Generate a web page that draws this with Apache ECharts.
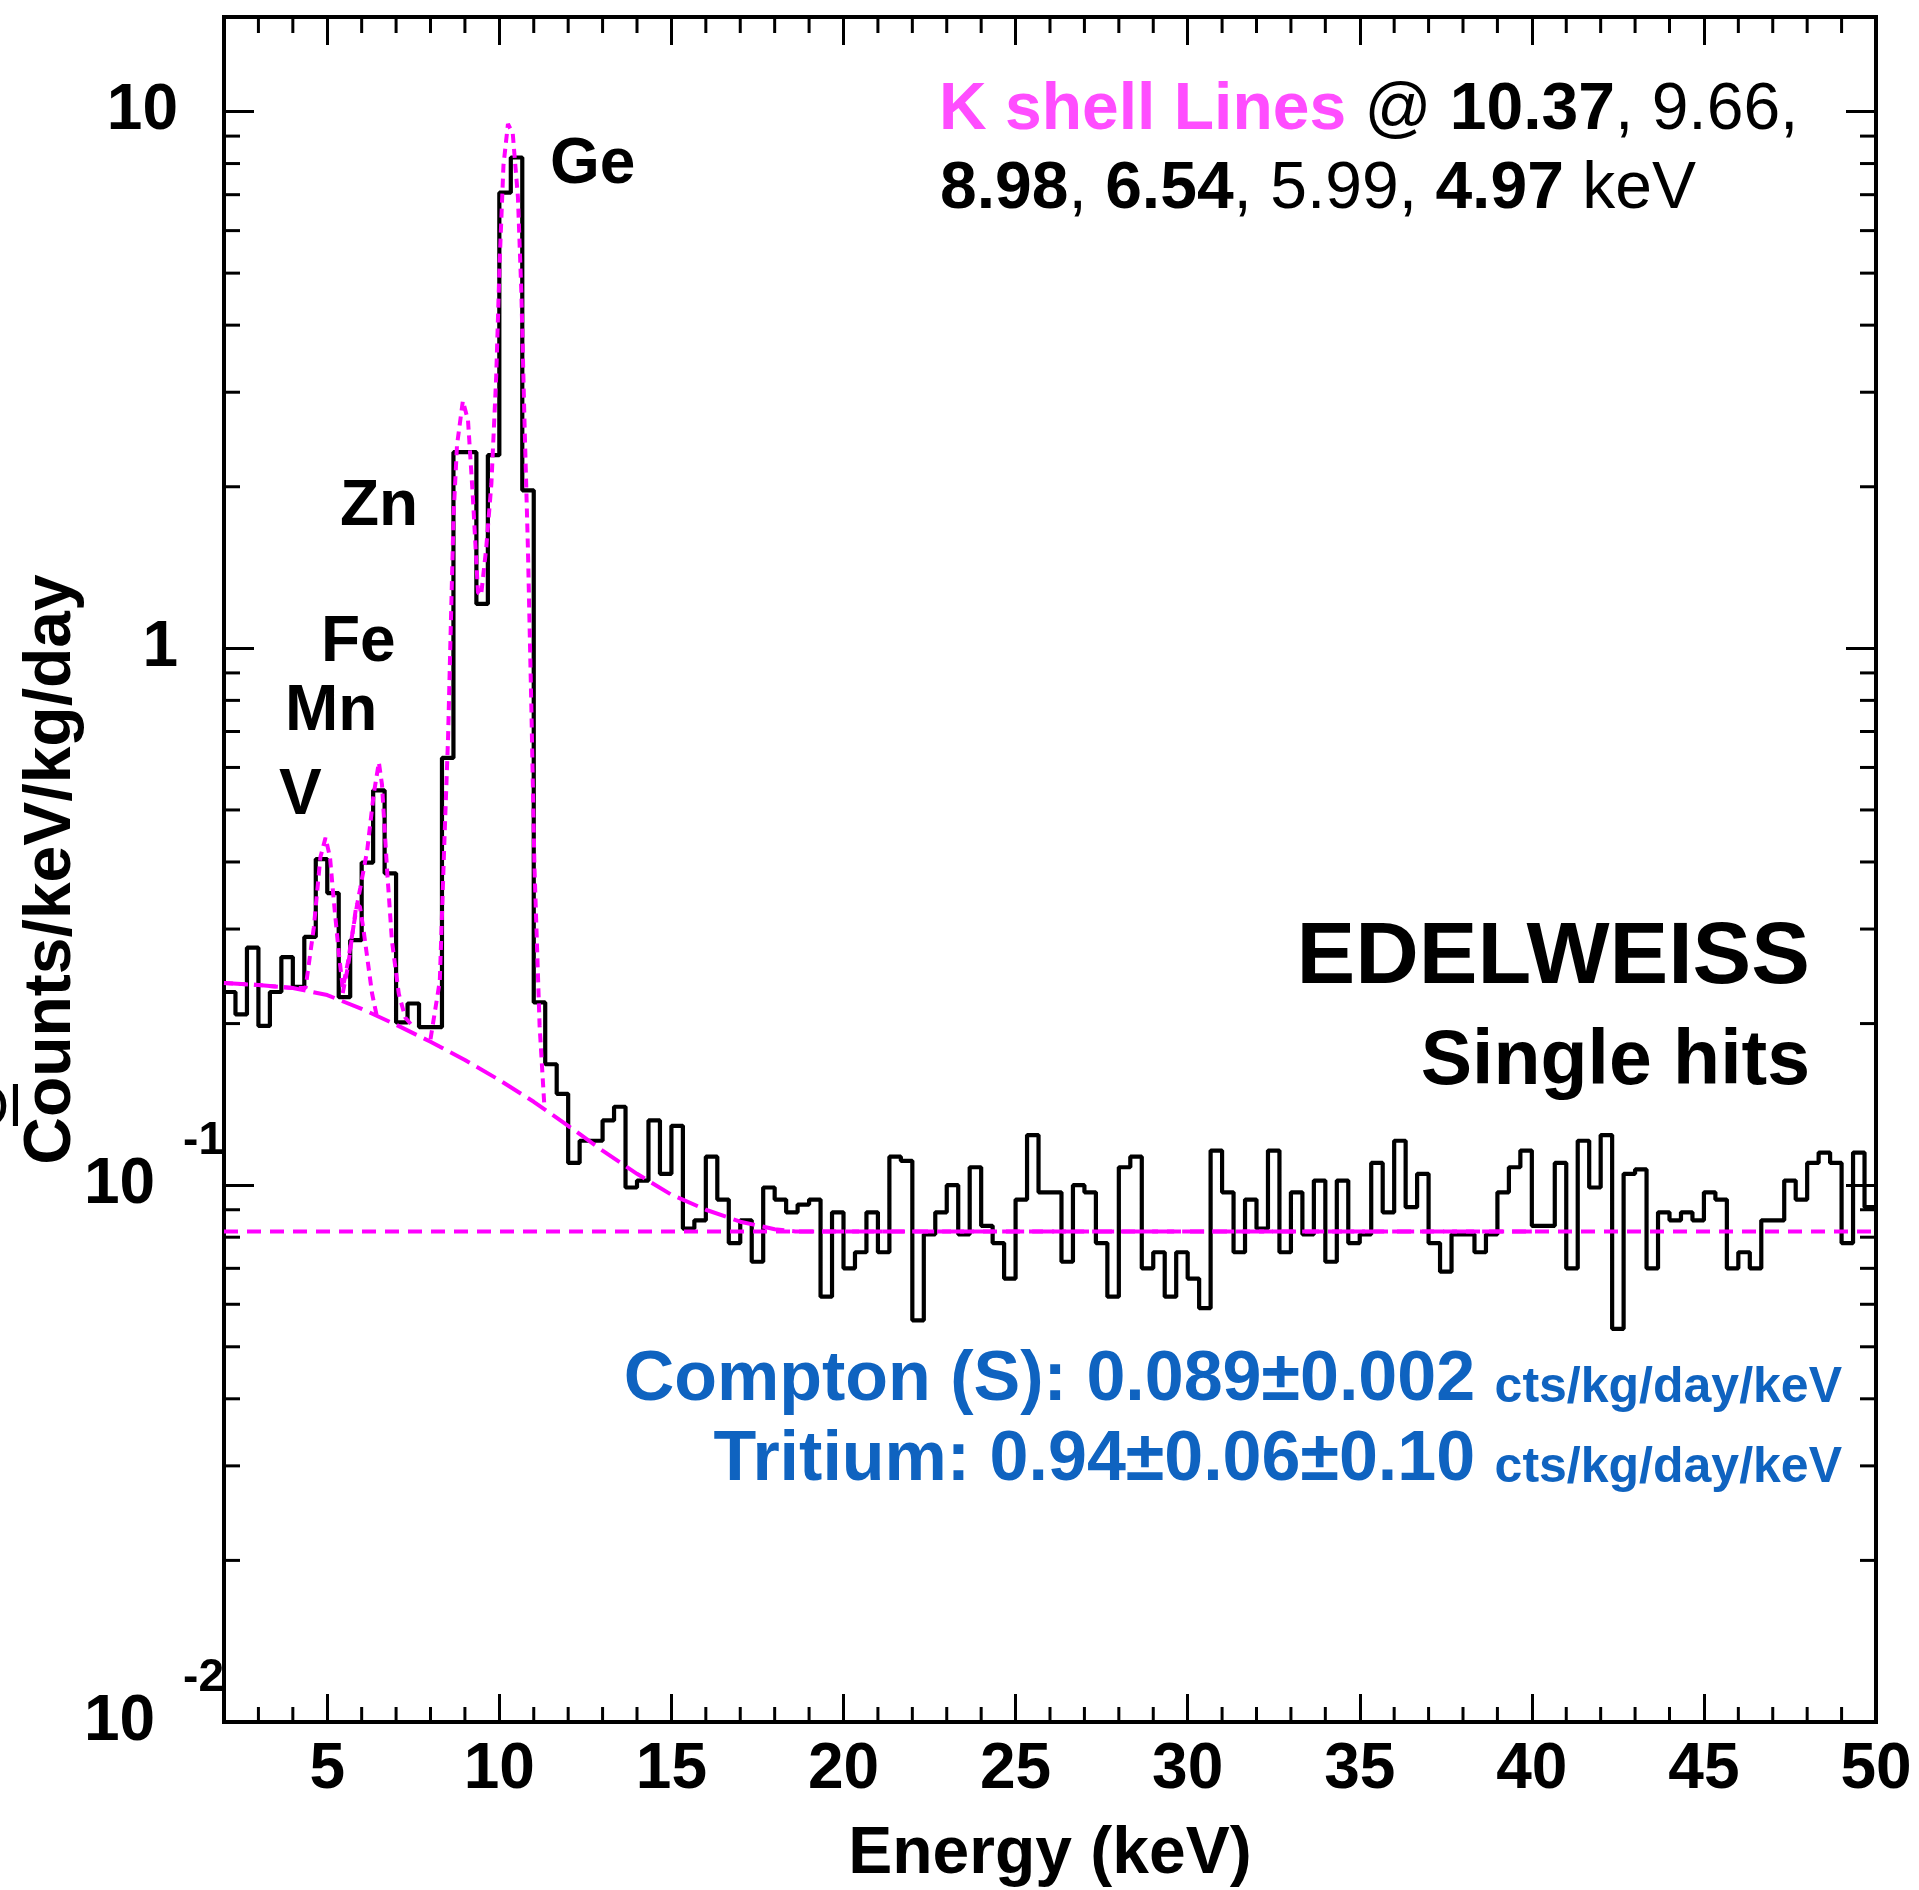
<!DOCTYPE html>
<html><head><meta charset="utf-8">
<script src="https://cdn.jsdelivr.net/npm/echarts@6/dist/echarts.min.js"></script>
<style>html,body{margin:0;padding:0;background:#fff}#c{width:1919px;height:1890px}</style>
</head><body><div id="c"></div>
<script>
// ---------------- data ----------------
const binStart = 2;        // keV, first bin edge
const binWidth = 1 / 3;    // keV
const counts = [
  0.229, 0.208, 0.277, 0.198, 0.229, 0.266, 0.234, 0.290, 0.405, 0.350,
  0.224, 0.286, 0.399, 0.544, 0.381, 0.201, 0.218, 0.197, 0.197, 0.625,
  2.32, 2.32, 1.21, 2.29, 7.06, 8.21, 1.97, 0.219, 0.168, 0.148,
  0.110, 0.121, 0.121, 0.132, 0.140, 0.099, 0.102, 0.132, 0.105, 0.129,
  0.083, 0.086, 0.113, 0.094, 0.078, 0.086, 0.072, 0.099, 0.094, 0.089,
  0.092, 0.094, 0.062, 0.089, 0.070, 0.075, 0.089, 0.075, 0.113, 0.111,
  0.056, 0.081, 0.089, 0.100, 0.081, 0.108, 0.084, 0.078, 0.067, 0.094,
  0.124, 0.097, 0.097, 0.072, 0.100, 0.097, 0.078, 0.062, 0.108, 0.113,
  0.070, 0.075, 0.062, 0.075, 0.067, 0.059, 0.116, 0.097, 0.075, 0.094,
  0.083, 0.116, 0.075, 0.097, 0.081, 0.102, 0.072, 0.102, 0.078, 0.081,
  0.110, 0.089, 0.121, 0.091, 0.105, 0.078, 0.069, 0.081, 0.081, 0.075,
  0.081, 0.097, 0.108, 0.116, 0.084, 0.084, 0.110, 0.070, 0.121, 0.099,
  0.124, 0.054, 0.105, 0.107, 0.070, 0.089, 0.086, 0.089, 0.086, 0.097,
  0.094, 0.070, 0.075, 0.070, 0.086, 0.086, 0.102, 0.094, 0.110, 0.115,
  0.110, 0.078, 0.115, 0.091
];

// Compton flat level (dashed)
const comptonEnergy = [2, 50];
const comptonValue  = [0.082, 0.082];

// Tritium + Compton background (long dashes)
const bgEnergy = [2, 3, 4, 5, 6, 7, 8, 9, 10, 11, 12, 13, 14, 15, 16, 17, 18, 18.6, 40];
const bgValue  = [0.238, 0.236, 0.233, 0.226, 0.213, 0.199, 0.185, 0.171, 0.157, 0.143,
                  0.129, 0.116, 0.105, 0.096, 0.090, 0.0855, 0.0828, 0.082, 0.082];

// Total fit (dotted), low-energy part: V, Mn, Fe lines
const fitLowEnergy = [2, 3, 4, 4.37, 4.61, 4.8, 4.95, 5.08, 5.19, 5.34, 5.45, 5.6, 5.75, 5.87,
                      5.96, 6.16, 6.35, 6.5, 6.59, 6.74, 6.88, 7.08, 7.27, 7.5];
const fitLowValue  = [0.238, 0.236, 0.233, 0.233, 0.302, 0.408, 0.444, 0.408, 0.339, 0.269,
                      0.233, 0.26, 0.30, 0.334, 0.358, 0.42, 0.535, 0.613, 0.558, 0.385,
                      0.285, 0.227, 0.205, 0.197];
// Total fit (dotted), Zn / Ge region
const fitHighEnergy = [8.0, 8.27, 8.41, 8.51, 8.6, 8.67, 8.77, 8.94, 9.09, 9.23, 9.38, 9.47,
                       9.62, 9.77, 9.91, 10.01, 10.12, 10.25, 10.39, 10.54, 10.64, 10.73,
                       10.83, 10.93, 11.02, 11.17, 11.31];
const fitHighValue  = [0.187, 0.24, 0.45, 0.68, 1.17, 1.77, 2.39, 2.89, 2.66, 1.92, 1.27, 1.255,
                       1.54, 2.03, 3.22, 5.27, 7.94, 9.48, 9.10, 6.93, 4.60, 2.66,
                       1.54, 0.778, 0.393, 0.198, 0.14];
// Mn line component alone (dotted)
const mnEnergy = [5.45, 5.6, 5.72, 5.85, 5.95, 6.05, 6.16, 6.3, 6.45];
const mnValue  = [0.228, 0.255, 0.29, 0.334, 0.33, 0.30, 0.266, 0.228, 0.205];

// axes
const xMin = 2, xMax = 50;
const yMin = 0.01, yMax = 15;
const xTickValues = [5, 10, 15, 20, 25, 30, 35, 40, 45, 50];
const yTickValues = [0.01, 0.1, 1, 10];
const yTickBase = ['10', '10', '1', '10'];
const yTickExp  = ['-2', '-1', '', ''];
const yMinorMantissa = [2, 3, 4, 5, 6, 7, 8, 9];
const yDecades = [0.01, 0.1, 1];

// texts
const xTitle = 'Energy (keV)';
const yTitle = 'Counts/keV/kg/day';
const peakNames = ['Ge', 'Zn', 'Fe', 'Mn', 'V'];

// ---------------- build ----------------
const FONT = '"Liberation Sans", Arial, Helvetica, sans-serif';
const MAG = '#ff00ff';
const histData = counts.map((v, i) => [binStart + i * binWidth, v]);
histData.push([binStart + counts.length * binWidth, counts[counts.length - 1]]);
const zip = (a, b) => a.map((x, i) => [x, b[i]]);

const xMinor = [];
for (let k = Math.ceil(xMin); k < xMax; k++) if (k % 5 !== 0 && k > xMin) xMinor.push(k);
const yMinor = [];
yDecades.forEach(d => yMinorMantissa.forEach(m => yMinor.push(+(m * d).toPrecision(3))));

function yLabel(v) {
  for (let i = 0; i < yTickValues.length; i++) {
    if (Math.abs(Math.log10(v) - Math.log10(yTickValues[i])) < 1e-6) {
      return yTickExp[i] ? '{b|' + yTickBase[i] + '}{s|' + yTickExp[i] + '}' : '{bp|' + yTickBase[i] + '}';
    }
  }
  return '';
}

const tickStyle = { stroke: '#000', lineWidth: 3 };
const chart = echarts.init(document.getElementById('c'), null, { renderer: 'canvas' });
const labelBold = { fontFamily: FONT, fontWeight: 'bold', color: '#000' };
const peakText = (i, x, y) => ({ type: 'text', x: x, y: y,
  style: { text: peakNames[i], font: 'bold 64px ' + FONT, fill: '#000', align: 'left', verticalAlign: 'middle' } });

chart.setOption({
  backgroundColor: '#fff',
  animation: false,
  grid: { left: 224, right: 43, top: 17, bottom: 168, show: true, borderColor: '#000', borderWidth: 4,
          backgroundColor: 'transparent', containLabel: false, outerBoundsMode: 'none' },
  xAxis: [
    { type: 'value', min: xMin, max: xMax, position: 'bottom',
      axisLine: { show: false, onZero: false }, splitLine: { show: false },
      axisTick: { show: true, inside: true, length: 28, customValues: xTickValues, lineStyle: { color: '#000', width: 3 } },
      axisLabel: { customValues: xTickValues, margin: 16, fontSize: 64, ...labelBold },
      name: xTitle, nameLocation: 'middle', nameGap: 100, nameMoveOverlap: false,
      nameTextStyle: { fontSize: 66, ...labelBold } },
    { type: 'value', min: xMin, max: xMax, position: 'top',
      axisLine: { show: false, onZero: false }, splitLine: { show: false },
      axisTick: { show: true, inside: true, length: 28, customValues: xTickValues, lineStyle: { color: '#000', width: 3 } },
      axisLabel: { show: false } }
  ],
  yAxis: [
    { type: 'log', logBase: 10, min: yMin, max: yMax, position: 'left',
      axisLine: { show: false, onZero: false }, splitLine: { show: false }, minorTick: { show: false },
      axisTick: { show: true, inside: true, length: 30, lineStyle: { color: '#000', width: 3 } },
      axisLabel: { margin: 0, showMinLabel: true, showMaxLabel: true, formatter: yLabel,
        rich: {
          bp: { fontSize: 64, lineHeight: 64, fontWeight: 'bold', fontFamily: FONT, color: '#000', padding: [0, 46, 0, 0] },
          b:  { fontSize: 64, lineHeight: 64, fontWeight: 'bold', fontFamily: FONT, color: '#000' },
          s:  { fontSize: 46, lineHeight: 46, fontWeight: 'bold', fontFamily: FONT, color: '#000', padding: [0, 0, 88, 28] }
        } },
      name: yTitle, nameLocation: 'middle', nameGap: 139, nameMoveOverlap: false,
      nameTextStyle: { fontSize: 66, ...labelBold } },
    { type: 'log', logBase: 10, min: yMin, max: yMax, position: 'right',
      axisLine: { show: false, onZero: false }, splitLine: { show: false }, minorTick: { show: false },
      axisTick: { show: true, inside: true, length: 30, lineStyle: { color: '#000', width: 3 } },
      axisLabel: { show: false } }
  ],
  series: [
    { name: 'data', type: 'line', step: 'end', data: histData, symbol: 'none', z: 2,
      lineStyle: { color: '#000', width: 4.2 }, silent: true },
    { name: 'compton', type: 'line', data: zip(comptonEnergy, comptonValue), symbol: 'none', z: 3,
      lineStyle: { color: MAG, width: 4, type: [14, 9] }, silent: true },
    { name: 'background', type: 'line', data: zip(bgEnergy, bgValue), symbol: 'none', z: 4,
      lineStyle: { color: MAG, width: 4, type: [22, 8] }, silent: true },
    { name: 'fitLow', type: 'line', data: zip(fitLowEnergy, fitLowValue), symbol: 'none', z: 5,
      lineStyle: { color: MAG, width: 4, type: [9, 6] }, silent: true },
    { name: 'fitHigh', type: 'line', data: zip(fitHighEnergy, fitHighValue), symbol: 'none', z: 5,
      lineStyle: { color: MAG, width: 4, type: [9, 6] }, silent: true },
    { name: 'Mn', type: 'line', data: zip(mnEnergy, mnValue), symbol: 'none', z: 5,
      lineStyle: { color: MAG, width: 4, type: [9, 6] }, silent: true },
    { name: 'xMinorTicks', type: 'custom', coordinateSystem: 'cartesian2d', silent: true, clip: false, z: 20,
      data: xMinor.map(v => [v, yMin]),
      renderItem: (params, api) => {
        const b = api.coord([api.value(0), yMin]);
        const t = api.coord([api.value(0), yMax]);
        return { type: 'group', children: [
          { type: 'line', shape: { x1: b[0], y1: b[1], x2: b[0], y2: b[1] - 15 }, style: tickStyle },
          { type: 'line', shape: { x1: t[0], y1: t[1], x2: t[0], y2: t[1] + 16 }, style: tickStyle } ] };
      } },
    { name: 'yMinorTicks', type: 'custom', coordinateSystem: 'cartesian2d', silent: true, clip: false, z: 20,
      data: yMinor.map(v => [xMin, v]),
      renderItem: (params, api) => {
        const l = api.coord([xMin, api.value(1)]);
        const r = api.coord([xMax, api.value(1)]);
        return { type: 'group', children: [
          { type: 'line', shape: { x1: l[0], y1: l[1], x2: l[0] + 16, y2: l[1] }, style: tickStyle },
          { type: 'line', shape: { x1: r[0], y1: r[1], x2: r[0] - 16, y2: r[1] }, style: tickStyle } ] };
      } }
  ],
  graphic: [
    // peak labels
    peakText(0, 550, 165),
    peakText(1, 340, 507),
    peakText(2, 321, 643),
    peakText(3, 285, 712),
    peakText(4, 279, 796),
    // stray thin glyphs at the far left of the original figure
    { type: 'text', x: 22, y: 1110, style: { text: 'Ol', font: '58px ' + FONT, fill: '#000', align: 'right', verticalAlign: 'middle' } },
    // K shell lines
    { type: 'text', x: 939, y: 111, style: {
        text: '{m|K shell Lines}{n| @ }{b|10.37}{n|, 9.66,}', align: 'left', verticalAlign: 'middle',
        rich: {
          m: { font: 'bold 66px ' + FONT, fill: '#ff4dff', lineHeight: 66 },
          n: { font: '66px ' + FONT, fill: '#000', lineHeight: 66 },
          b: { font: 'bold 66px ' + FONT, fill: '#000', lineHeight: 66 } } } },
    { type: 'text', x: 940, y: 190, style: {
        text: '{b|8.98}{n|, }{b|6.54}{n|, 5.99, }{b|4.97}{n| keV}', align: 'left', verticalAlign: 'middle',
        rich: {
          n: { font: '66px ' + FONT, fill: '#000', lineHeight: 66 },
          b: { font: 'bold 66px ' + FONT, fill: '#000', lineHeight: 66 } } } },
    // EDELWEISS
    { type: 'text', x: 1810, y: 959, style: { text: 'EDELWEISS', font: 'bold 88px ' + FONT, fill: '#000', align: 'right', verticalAlign: 'middle' } },
    { type: 'text', x: 1810, y: 1063, style: { text: 'Single hits', font: 'bold 77px ' + FONT, fill: '#000', align: 'right', verticalAlign: 'middle' } },
    // fit results
    { type: 'text', x: 1842, y: 1381, style: {
        text: '{a|Compton (S): 0.089±0.002 }{c|cts/kg/day/keV}', align: 'right', verticalAlign: 'middle',
        rich: {
          a: { font: 'bold 70px ' + FONT, fill: '#0f63c0', lineHeight: 70, verticalAlign: 'bottom' },
          c: { font: 'bold 50px ' + FONT, fill: '#0f63c0', lineHeight: 50, verticalAlign: 'bottom', padding: [0, 0, 3, 0] } } } },
    { type: 'text', x: 1842, y: 1461, style: {
        text: '{a|Tritium: 0.94±0.06±0.10 }{c|cts/kg/day/keV}', align: 'right', verticalAlign: 'middle',
        rich: {
          a: { font: 'bold 70px ' + FONT, fill: '#0f63c0', lineHeight: 70, verticalAlign: 'bottom' },
          c: { font: 'bold 50px ' + FONT, fill: '#0f63c0', lineHeight: 50, verticalAlign: 'bottom', padding: [0, 0, 3, 0] } } } }
  ]
});
</script>
</body></html>
